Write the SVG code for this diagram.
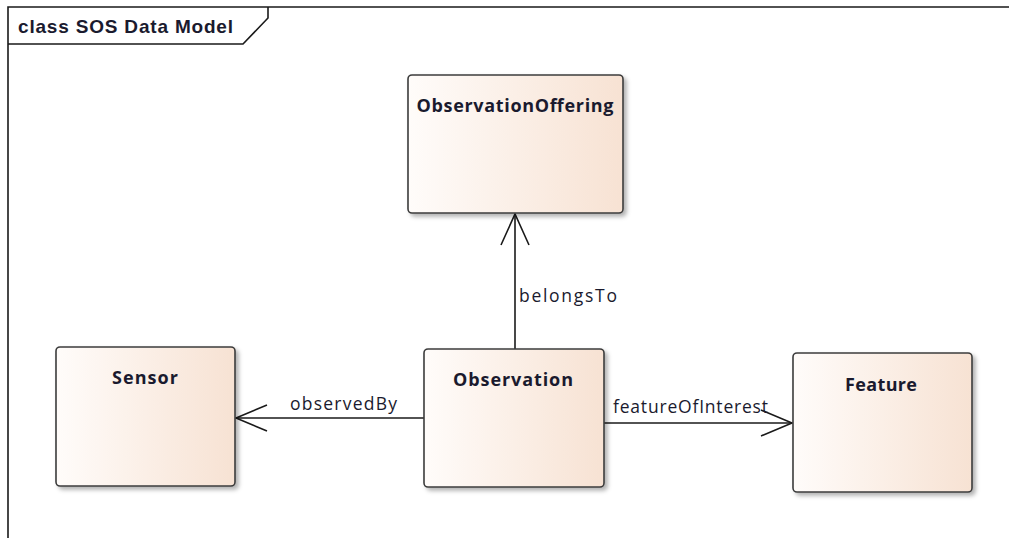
<svg xmlns="http://www.w3.org/2000/svg" width="1009" height="538" viewBox="0 0 1009 538">
<style>
.box{fill:url(#g);stroke:#3c3c3c;stroke-width:1.6;filter:url(#sh)}
.name{font-family:"Open Sans","Noto Sans",sans-serif;font-weight:bold;font-size:18px;fill:#1a1a2e;text-anchor:middle}
.lbl{font-family:"Open Sans","Noto Sans",sans-serif;font-size:17.5px;fill:#1a1a2e}
.ln{stroke:#1a1a1a;stroke-width:1.6;fill:none}
</style>
<defs>
<linearGradient id="g" x1="0" y1="0" x2="1" y2="0">
<stop offset="0" stop-color="#fffcfa"/>
<stop offset="1" stop-color="#f7e2d3"/>
</linearGradient>
<filter id="sh" x="-10%" y="-10%" width="130%" height="130%">
<feDropShadow dx="3" dy="3" stdDeviation="2" flood-color="#000" flood-opacity="0.3"/>
</filter>
</defs>
<rect width="1009" height="538" fill="#fff"/>
<g id="frame">
<path d="M8,538 V7 H1009" class="ln"/>
<path d="M8,44 H243 L268,18 V7" class="ln"/>
<text x="18" y="33" font-family="Liberation Sans,Arial,sans-serif" font-weight="bold" font-size="19" fill="#1a1a2e" textLength="215" lengthAdjust="spacing">class SOS Data Model</text>
</g>
<g id="connectors">
<path class="ln" d="M515,349 V214"/>
<path class="ln" d="M501,245 L515,214 L529,245"/>
<text class="lbl" x="519" y="302" textLength="98" lengthAdjust="spacing">belongsTo</text>
<path class="ln" d="M424,418 H236"/>
<path class="ln" d="M267,405 L236,418 L267,431"/>
<text class="lbl" x="290" y="410" textLength="107" lengthAdjust="spacing">observedBy</text>
<path class="ln" d="M604,423 H792"/>
<path class="ln" d="M761,410 L792,423 L761,436"/>
<text class="lbl" x="613" y="413" textLength="155" lengthAdjust="spacing">featureOfInterest</text>
</g>
<g id="ObservationOffering">
<rect class="box" x="408" y="75" width="215" height="138" rx="4"/>
<text class="name" x="515" y="112" textLength="197" lengthAdjust="spacing">ObservationOffering</text>
</g>
<g id="Sensor">
<rect class="box" x="56" y="347" width="179" height="139" rx="4"/>
<text class="name" x="145" y="384" textLength="66" lengthAdjust="spacing">Sensor</text>
</g>
<g id="Observation">
<rect class="box" x="424" y="349" width="180" height="138" rx="4"/>
<text class="name" x="513" y="386" textLength="120" lengthAdjust="spacing">Observation</text>
</g>
<g id="Feature">
<rect class="box" x="793" y="353" width="179" height="139" rx="4"/>
<text class="name" x="881" y="391" textLength="72" lengthAdjust="spacing">Feature</text>
</g>
</svg>
